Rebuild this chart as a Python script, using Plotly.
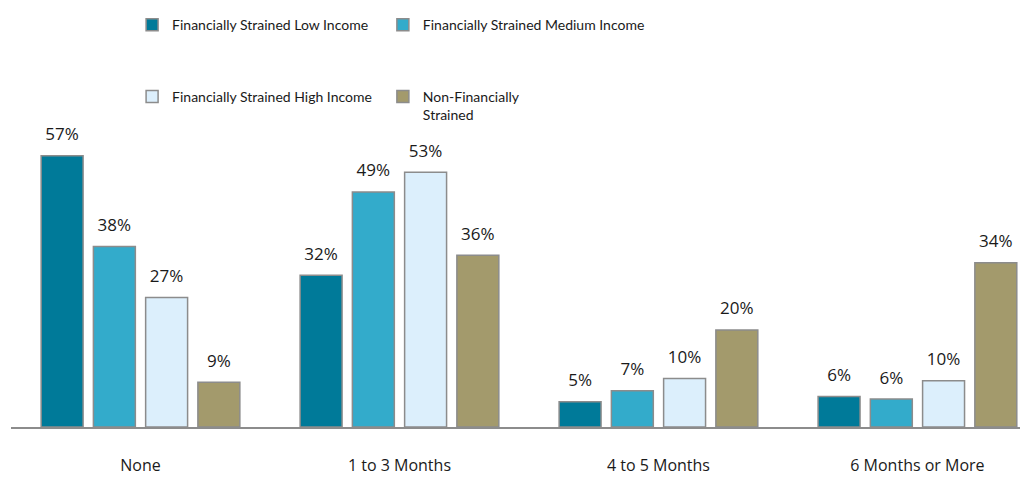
import plotly.graph_objects as go

categories = ["None", "1 to 3 Months", "4 to 5 Months", "6 Months or More"]

series_names = [
    "Financially Strained Low Income",
    "Financially Strained Medium Income",
    "Financially Strained High Income",
    "Non-Financially<br>Strained",
]

# bar heights (percent)
low_income = [57.0, 31.9, 5.3, 6.4]
medium_income = [37.9, 49.4, 7.6, 5.9]
high_income = [27.2, 53.5, 10.2, 9.7]
non_strained = [9.4, 36.1, 20.4, 34.5]

# printed labels
low_labels = ["57%", "32%", "5%", "6%"]
medium_labels = ["38%", "49%", "7%", "6%"]
high_labels = ["27%", "53%", "10%", "10%"]
non_labels = ["9%", "36%", "20%", "34%"]

colors = ["#007A99", "#33ABCB", "#DCEFFC", "#A39A6C"]
legends = ["legend", "legend2", "legend3", "legend4"]

fig = go.Figure()

for name, vals, labels, color, lg in zip(
    series_names,
    [low_income, medium_income, high_income, non_strained],
    [low_labels, medium_labels, high_labels, non_labels],
    colors,
    legends,
):
    fig.add_trace(go.Bar(
        x=categories,
        y=vals,
        name=name,
        legend=lg,
        marker=dict(color=color, line=dict(color="#8C8C8C", width=1.5)),
        # small base size so the blank second line only adds a little padding
        text=["<span style='font-size:17px'>" + t + "</span><br> " for t in labels],
        textposition="outside",
        textfont=dict(family="Open Sans, sans-serif", size=8, color="#1a1a1a"),
        cliponaxis=False,
        hoverinfo="skip",
    ))

legend_font = dict(family="Lato, sans-serif", size=14, color="#1a1a1a")


def legend_box(x, y):
    # one legend per entry so the 2x2 grid can be placed like the original
    return dict(
        orientation="v",
        xref="container", yref="container",
        x=x, xanchor="left",
        y=y, yanchor="top",
        valign="top",
        font=legend_font,
        bgcolor="rgba(0,0,0,0)",
    )


fig.update_layout(
    width=1032,
    height=478,
    barmode="group",
    bargap=0.193,
    bargroupgap=0.197,
    paper_bgcolor="white",
    plot_bgcolor="white",
    margin=dict(l=11, r=12, t=130, b=51, autoexpand=False),
    xaxis=dict(
        range=[-0.5, 3.396],
        showline=True,
        linecolor="#8C8C8C",
        linewidth=1.5,
        showgrid=False,
        ticks="outside",
        ticklen=23,
        tickcolor="rgba(0,0,0,0)",
        tickfont=dict(family="Open Sans, sans-serif", size=16, color="#1a1a1a"),
        automargin=False,
    ),
    yaxis=dict(
        range=[0, 62.4],
        visible=False,
        showgrid=False,
        zeroline=False,
    ),
    legend=legend_box(0.128, 0.981),
    legend2=legend_box(0.371, 0.981),
    legend3=legend_box(0.128, 0.831),
    legend4=legend_box(0.371, 0.831),
    showlegend=True,
)

fig.write_html("out.html", config={"displayModeBar": False},
               post_script="document.body.style.margin='0';")
